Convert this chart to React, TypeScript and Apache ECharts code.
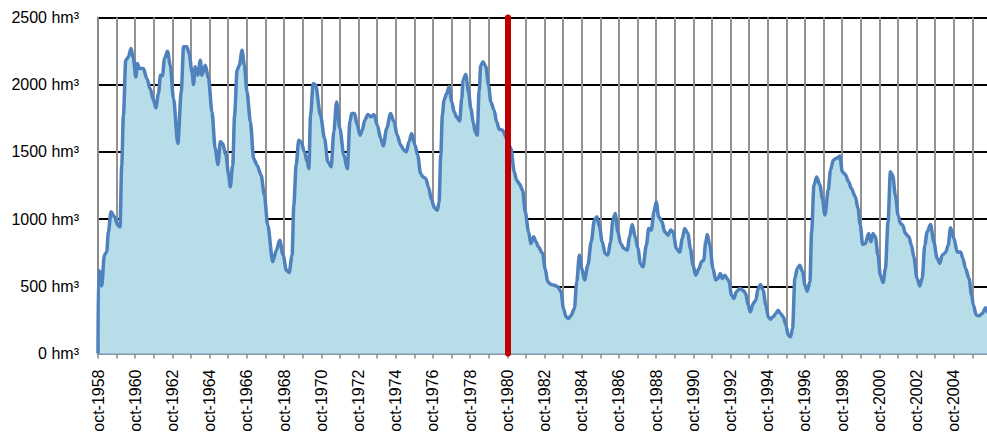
import React, { useEffect, useRef } from "react";
import * as echarts from "echarts";

// Month index since oct-1958 (0 = oct-1958) and stored volume (hm³)
const MONTHS_1958_1969 = [
  0, 0.2, 1.3, 2.4, 4.1, 5.6, 6.7, 8.4, 10.6, 12.7, 14.2, 15.3, 16.4, 17.9, 19.6, 21.3, 22.8, 24.4,
  25.4, 26.7, 29.3, 31.5, 33.6, 35.8, 37.3, 39.0, 40.3, 41.6, 42.9, 44.8, 46.6, 48.7, 51.5, 53.7,
  55.2, 57.3, 58.8, 60.6, 61.6, 62.7, 64.4, 66.0, 67.0, 69.2, 71.3, 73.5, 75.6, 77.4, 78.9, 80.4,
  82.5, 84.3, 85.3, 86.9, 88.1, 89.7, 91.2, 92.9, 94.4, 96.1, 98.3, 100.4, 102.6, 105.2, 107.3,
  109.5, 112.7, 115.1, 117.2, 119.4, 121.5, 123.3, 125.2, 126.3, 127.8, 129.5, 131.0, 133.2, 134.9,
];
const VOLUMES_1958_1969 = [
  0, 620, 608, 503, 732, 756, 905, 1054, 1017, 955, 942, 1401, 1773, 2182, 2207, 2269, 2195, 2058,
  2158, 2120, 2120, 2046, 1972, 1885, 1828, 1934, 2071, 2066, 2195, 2249, 2145, 1897, 1562, 1947,
  2282, 2282, 2232, 2096, 2001, 2133, 2071, 2182, 2071, 2145, 2046, 1798, 1525, 1406, 1575, 1562,
  1476, 1327, 1240, 1401, 1773, 2108, 2145, 2257, 2145, 1947, 1724, 1451, 1401, 1327, 1178,
  955, 682, 769, 843, 732, 620, 603, 732, 1104, 1401, 1587, 1575, 1500, 1426,
];

const MONTHS_1969_1980 = [
  136.0, 137.1, 138.8, 140.3, 143.5, 146.1, 148.3, 150.4, 152.1, 153.9, 156.0, 158.6, 160.8, 162.5,
  163.6, 165.5, 167.2, 169.0, 170.5, 172.0, 174.1, 175.9, 178.0, 180.2, 182.3, 184.0, 186.2, 188.7,
  190.9, 193.0, 195.2, 197.4, 198.9, 200.6, 202.3, 204.5, 206.2, 208.1, 209.6, 211.4, 213.1, 215.2,
  217.0, 218.9, 220.0, 221.1, 222.1, 223.2, 224.9, 226.4, 228.2, 229.7, 231.2, 233.3, 234.6, 235.5,
  237.2, 239.0, 240.5, 242.0, 243.3, 244.6, 245.8, 246.9, 248.4, 250.2, 251.9, 253.4, 255.5, 257.1,
  258.8, 260.9, 263.7,
];
const VOLUMES_1969_1980 = [
  1376, 1773, 2009, 2000, 1773, 1600, 1426, 1389, 1649, 1872, 1674, 1476, 1376, 1724,
  1786, 1786, 1699, 1624, 1661, 1736, 1778, 1761, 1778, 1699, 1600, 1545, 1674, 1786,
  1724, 1624, 1550, 1513, 1500, 1575, 1637, 1550, 1476, 1339, 1314, 1302, 1240, 1141,
  1084, 1066, 1128, 1476, 1773, 1885, 1934, 1984, 1872, 1798, 1761, 1729, 1897, 2034,
  2076, 1947, 1823, 1724, 1649, 1624, 1947, 2145, 2170, 2133, 1996, 1872, 1810, 1724,
  1669, 1662, 1600,
];

const MONTHS_1980_1994 = [
  266.3, 268.5, 270.0, 271.7, 273.9, 275.6, 277.7, 279.2, 281.0, 282.5, 284.0, 286.8, 288.4, 290.1,
  292.2, 294.4, 296.5, 298.7, 300.2, 301.9, 303.4, 305.2, 307.3, 308.8, 310.5, 312.1, 313.8, 316.0,
  318.1, 320.2, 321.8, 323.5, 325.2, 327.1, 328.9, 330.6, 332.1, 333.6, 335.3, 337.1, 339.2, 341.4,
  342.9, 344.6, 346.5, 348.3, 349.8, 351.5, 353.7, 355.2, 356.9, 358.6, 360.1, 361.6, 363.8, 365.5,
  367.7, 369.4, 370.9, 373.1, 375.2, 376.9, 378.4, 380.5, 382.1, 383.8, 385.5, 387.7, 389.2, 390.7,
  392.0, 393.0, 394.6, 396.7, 398.4, 399.9, 401.4, 402.7, 404.3, 405.8, 407.1, 408.6, 410.1, 411.8,
  413.9, 416.1, 417.8, 419.3, 420.8, 422.6, 424.3, 425.8, 427.3, 429.0, 430.8,
];
const VOLUMES_1980_1994 = [
  1525, 1352, 1290, 1265, 1215, 1054, 905, 818, 868, 831, 794, 744, 632, 533,
  513, 508, 496, 459, 335, 273, 260, 285, 335, 533, 732, 632, 546, 657,
  831, 992, 1017, 942, 831, 744, 732, 831, 992, 1042, 905, 818, 781, 769,
  868, 960, 868, 781, 670, 645, 806, 930, 918, 1054, 1128, 1017, 980, 905,
  880, 918, 905, 781, 754, 856, 930, 893, 781, 657, 583, 632, 682, 694,
  831, 885, 806, 632, 546, 558, 595, 558, 583, 558, 533, 434, 409, 459,
  484, 471, 446, 360, 310, 372, 397, 484, 513, 471, 360,
];

const MONTHS_1994_2006 = [
  432.3, 433.8, 435.5, 437.2, 438.7, 440.2, 442.0, 443.7, 445.2, 446.7, 448.0, 449.5, 451.0, 452.7,
  454.5, 456.0, 457.5, 459.2, 460.3, 461.8, 463.5, 465.7, 467.2, 468.9, 471.0, 472.5, 474.3, 476.4,
  478.5, 480.1, 482.0, 484.2, 485.9, 488.5, 490.2, 491.7, 493.2, 494.9, 497.1, 498.6, 499.9, 501.4,
  503.1, 504.6, 506.4, 507.9, 509.6, 511.1, 512.6, 514.3, 516.1, 517.6, 519.1, 520.8, 523.0, 524.7,
  526.2, 528.3, 530.1, 531.6, 533.3, 534.8, 537.0, 539.1, 541.3, 543.0, 544.5, 546.7, 548.4, 549.9,
  552.1, 554.2, 556.4, 557.9, 559.6, 561.8, 563.5, 564.6, 566.5, 568.2, 570.4, 572.5, 574.2, 575.5,
];
const VOLUMES_1994_2006 = [
  273, 255, 273, 298, 322, 298, 273, 211, 136, 124, 186, 558, 632, 657,
  608, 508, 464, 533, 905, 1252, 1314, 1252, 1153, 1030, 1216, 1365, 1440, 1452,
  1469, 1352, 1332, 1277, 1228, 1166, 1079, 955, 811, 818, 893, 831, 893, 868,
  732, 583, 528, 632, 980, 1352, 1327, 1178, 1029, 967, 955, 893, 868, 806,
  719, 558, 503, 558, 806, 905, 960, 831, 707, 670, 732, 751, 806, 935,
  856, 756, 756, 707, 632, 558, 434, 360, 285, 280, 298, 340, 300, 290,
];

const START_YEAR = 1958;
const LABEL_YEARS = [
  1958, 1960, 1962, 1964, 1966, 1968, 1970, 1972, 1974, 1976, 1978, 1980,
  1982, 1984, 1986, 1988, 1990, 1992, 1994, 1996, 1998, 2000, 2002, 2004,
];
const Y_TICKS = [0, 500, 1000, 1500, 2000, 2500];
const UNIT = "hm³";
const MARKER_MONTH = 264; // oct-1980

const FONT = "'Liberation Sans', Arial, Helvetica, sans-serif";

export default function App() {
  const ref = useRef<HTMLDivElement>(null);

  useEffect(() => {
    if (!ref.current) return;
    const chart = echarts.init(ref.current, null, { renderer: "svg" });
    const months = [...MONTHS_1958_1969, ...MONTHS_1969_1980, ...MONTHS_1980_1994, ...MONTHS_1994_2006];
    const volumes = [...VOLUMES_1958_1969, ...VOLUMES_1969_1980, ...VOLUMES_1980_1994, ...VOLUMES_1994_2006];
    const data = months.map((m, i) => [m, volumes[i]]);

    chart.setOption({
      animation: false,
      backgroundColor: "#ffffff",
      grid: { left: 98, right: 0, top: 17.5, bottom: 85.5, containLabel: false },
      xAxis: {
        type: "value",
        min: 0,
        max: 576,
        interval: 12,
        axisLine: { show: true, onZero: false, lineStyle: { color: "#8497b0", width: 2 } },
        axisTick: { show: true, length: 5, lineStyle: { color: "#8a8a8a", width: 1.5 } },
        axisLabel: {
          rotate: 90,
          margin: 16,
          fontSize: 16,
          fontFamily: FONT,
          color: "#000",
          formatter: (v: number) => {
            const y = START_YEAR + v / 12;
            return LABEL_YEARS.includes(y) ? "oct-" + y : "";
          },
        },
        splitLine: { show: true, lineStyle: { color: "#929292", width: 2 } },
      },
      yAxis: {
        type: "value",
        min: Y_TICKS[0],
        max: Y_TICKS[Y_TICKS.length - 1],
        interval: Y_TICKS[1] - Y_TICKS[0],
        axisLine: { show: true, lineStyle: { color: "#8a8a8a", width: 2 } },
        axisTick: { show: false },
        axisLabel: {
          margin: 19,
          fontSize: 16,
          fontFamily: FONT,
          color: "#000",
          formatter: (v: number) => v + " " + UNIT,
        },
        splitLine: { show: true, lineStyle: { color: "#000", width: 2 } },
      },
      series: [
        {
          type: "line",
          data,
          showSymbol: false,
          smooth: 0.3,
          smoothMonotone: "x",
          lineStyle: { color: "#4F81BD", width: 3.5 },
          areaStyle: { color: "#B7DDE8", opacity: 1 },
          silent: true,
          markLine: {
            silent: true,
            symbol: "none",
            label: { show: false },
            lineStyle: { color: "#C00000", width: 6, type: "solid", cap: "round" },
            data: [{ xAxis: MARKER_MONTH }],
          },
        },
      ],
    });
    return () => chart.dispose();
  }, []);

  return (
    <div
      style={{
        position: "absolute",
        left: 0,
        top: 0,
        width: 987,
        height: 439,
        overflow: "hidden",
        background: "#fff",
      }}
    >
      <div ref={ref} style={{ width: 991, height: 439 }} />
    </div>
  );
}
